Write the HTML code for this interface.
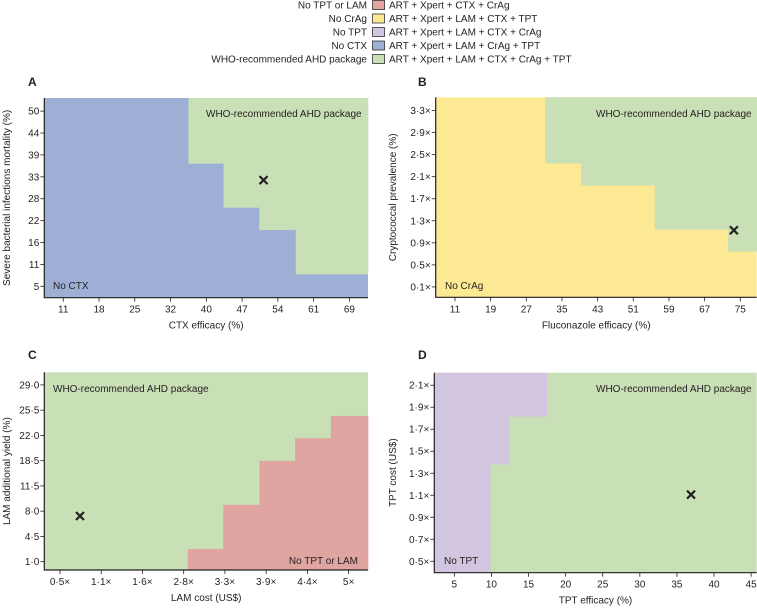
<!DOCTYPE html>
<html><head><meta charset="utf-8">
<style>
body{margin:0;background:#fff;}
svg{display:block;font-family:"Liberation Sans",sans-serif;}
text{fill:#231f20;}
</style></head>
<body>
<svg id="chart" width="757" height="608" viewBox="0 0 757 608">
<g id="legend"></g>
</svg>
<script>
// ---- data ----
const legendLabels = ["No TPT or LAM","No CrAg","No TPT","No CTX","WHO-recommended AHD package"];
const legendDescs = ["ART + Xpert + CTX + CrAg","ART + Xpert + LAM + CTX + TPT","ART + Xpert + LAM + CTX + CrAg","ART + Xpert + LAM + CrAg + TPT","ART + Xpert + LAM + CTX + CrAg + TPT"];
const legendColors = ["#e0a5a0","#fde994","#d2c5e0","#9eafd6","#c9dfb6"];

const aXTicks = ["11","18","25","32","40","47","54","61","69"];
const aYTicks = ["5","11","16","22","28","33","39","44","50"];
const aEdges = [3.5,4.48,5.48,6.5,8.52];
const aThresh = [5.6,3.59,2.57,0.55];
const aMarker = [5.6,4.85];

const bXTicks = ["11","19","27","35","43","51","59","67","75"];
const bYTicks = ["0·1×","0·5×","0·9×","1·3×","1·7×","2·1×","2·5×","2·9×","3·3×"];
const bEdges = [2.53,3.54,5.6,7.66,8.46];
const bThresh = [5.6,4.6,2.6,1.6];
const bMarker = [7.82,2.57];

const cXTicks = ["0·5×","1·1×","1·6×","2·8×","3·3×","3·9×","4·4×","5×"];
const cYTicks = ["1·0","4·5","8·0","11·5","18·5","22·0","25·5","29·0"];
const cEdges = [3.1,3.96,4.84,5.7,6.57,7.47];
const cThresh = [0.5,2.25,3.99,4.89,5.77];
const cMarker = [0.485,1.81];

const dXTicks = ["5","10","15","20","25","30","35","40","45"];
const dYTicks = ["0·5×","0·7×","0·9×","1·1×","1·3×","1·5×","1·7×","1·9×","2·1×"];
const dEdges = [-0.54,0.96,1.48,2.5];
const dThresh = [-0.52,4.4,6.57];
const dMarker = [6.38,3.03];

const NS="http://www.w3.org/2000/svg";
const svg=document.getElementById('chart');
function mk(tag,attrs,parent){const e=document.createElementNS(NS,tag);for(const k in attrs)e.setAttribute(k,attrs[k]);(parent||svg).appendChild(e);return e;}

// legend
const lg=document.getElementById('legend');
legendLabels.forEach((lab,i)=>{
  const y=5+i*13.5;
  const t1=mk('text',{x:367,y:y+3.5,'font-size':10,'text-anchor':'end'},lg);t1.textContent=lab;
  
  
  const r=mk('rect',{x:372.5,y:y-4.5,width:12,height:9,fill:legendColors[i],stroke:'#333','stroke-width':0.8},lg);
  
  
  const t2=mk('text',{x:389,y:y+3.5,'font-size':10},lg);t2.textContent=legendDescs[i];
  
  
});

function panel(o){
  const g=mk('g',{});
  
  
  const X=v=>o.L+(v-o.xd[0])/(o.xd[1]-o.xd[0])*(o.R-o.L);
  const Y=v=>o.B-(v-o.yd[0])/(o.yd[1]-o.yd[0])*(o.B-o.T);
  const bg=mk('rect',{x:o.L,y:o.T,width:o.R-o.L,height:o.B-o.T,fill:o.base},g);
  
  
  for(let i=0;i<o.thresh.length;i++){
    const x0=X(o.edges[i]),x1=X(o.edges[i+1]),yt=Y(o.thresh[i]);
    let y0,h;
    if(o.above){y0=o.T;h=yt-o.T;}else{y0=yt;h=o.B-yt;}
    if(h<=0)continue;
    const r=mk('rect',{x:x0,y:y0,width:x1-x0+0.3,height:h,fill:o.over},g);
    
    
  }
  const ax=mk('path',{d:`M${o.L},${o.T} V${o.B} H${o.R}`,stroke:'#231f20','stroke-width':1.2,fill:'none'},g);
  
  
  o.xt.forEach((lab,i)=>{
    const x=X(i);
    mk('line',{x1:x,x2:x,y1:o.B,y2:o.B+4,stroke:'#231f20','stroke-width':0.8},g);
    const t=mk('text',{x:x,y:o.B+15,'font-size':10,'text-anchor':'middle'},g);t.textContent=lab;
    
    
  });
  o.yt.forEach((lab,i)=>{
    const y=Y(i);
    mk('line',{x1:o.L-4,x2:o.L,y1:y,y2:y,stroke:'#231f20','stroke-width':0.8},g);
    const t=mk('text',{x:o.L-5,y:y+3.5,'font-size':10,'text-anchor':'end'},g);t.textContent=lab;
    
    
  });
  const xtl=mk('text',{x:(o.L+o.R)/2,y:o.B+31,'font-size':10,'text-anchor':'middle'},g);xtl.textContent=o.xTitle;
  
  
  const cy=(o.T+o.B)/2;
  const ytl=mk('text',{x:o.ytx,y:cy,'font-size':10,'text-anchor':'middle',transform:`rotate(-90 ${o.ytx} ${cy})`},g);ytl.textContent=o.yTitle;
  
  
  const pl=mk('text',{x:o.lx,y:o.ly,'font-size':12,'font-weight':'bold'},g);pl.textContent=o.letter;
  
  
  const a1=mk('text',{x:o.a1[0],y:o.a1[1],'font-size':10,'text-anchor':o.a1[2]},g);a1.textContent='WHO-recommended AHD package';
  
  
  const a2=mk('text',{x:o.a2[0],y:o.a2[1],'font-size':10,'text-anchor':o.a2[2]},g);a2.textContent=o.a2[3];
  
  
  const mx=X(o.marker[0]),my=Y(o.marker[1]);
  const m=mk('path',{d:`M${mx-4},${my-4} L${mx+4},${my+4} M${mx+4},${my-4} L${mx-4},${my+4}`,stroke:'#231f20','stroke-width':2.2},g);
  
  
}

panel({letter:'A',L:44.3,R:368,T:98,B:297.7,xd:[-0.53,8.52],yd:[-0.52,8.6],base:'#9eafd6',over:'#c9dfb6',above:true,
  edges:aEdges,thresh:aThresh,marker:aMarker,xt:aXTicks,yt:aYTicks,xTitle:'CTX efficacy (%)',yTitle:'Severe bacterial infections mortality (%)',
  ytx:10,lx:28,ly:86,a1:[206,117,'start'],a2:[53,289,'start','No CTX']});
panel({letter:'B',L:435.7,R:756.7,T:97.3,B:297.3,xd:[-0.54,8.46],yd:[-0.47,8.6],base:'#fde994',over:'#c9dfb6',above:true,
  edges:bEdges,thresh:bThresh,marker:bMarker,xt:bXTicks,yt:bYTicks,xTitle:'Fluconazole efficacy (%)',yTitle:'Cryptococcal prevalence (%)',
  ytx:396,lx:418,ly:86,a1:[596,117,'start'],a2:[445,289,'start','No CrAg']});
panel({letter:'C',L:44.3,R:368,T:372.3,B:570,xd:[-0.38,7.47],yd:[-0.33,7.5],base:'#c9dfb6',over:'#e0a5a0',above:false,
  edges:cEdges,thresh:cThresh,marker:cMarker,xt:cXTicks,yt:cYTicks,xTitle:'LAM cost (US$)',yTitle:'LAM additional yield (%)',
  ytx:10,lx:28,ly:359,a1:[53,392,'start'],a2:[358,564,'end','No TPT or LAM']});
panel({letter:'D',L:434.3,R:756.7,T:372.7,B:572.7,xd:[-0.54,8.15],yd:[-0.52,8.57],base:'#c9dfb6',over:'#d2c5e0',above:true,
  edges:dEdges,thresh:dThresh,marker:dMarker,xt:dXTicks,yt:dYTicks,xTitle:'TPT efficacy (%)',yTitle:'TPT cost (US$)',
  ytx:396,lx:418,ly:359,a1:[596,392,'start'],a2:[444,564,'start','No TPT']});
</script>
</body></html>
